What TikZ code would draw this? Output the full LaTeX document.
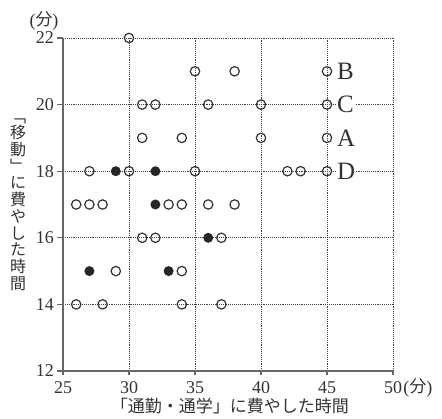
\documentclass[tikz,border=0pt]{standalone}
\usepackage{fontspec}
\setmainfont{Liberation Serif}
\newfontfamily\cjk{Noto Sans CJK JP}
\begin{document}
\begin{tikzpicture}[
  gridline/.style={draw=black!75, line width=0.8pt, dash pattern=on 0.8pt off 1.1pt},
  axisline/.style={draw=black!60, line width=1.3pt},
  tickline/.style={draw=black!60, line width=1.1pt},
  opendot/.style={circle, draw=black!80, line width=1.2pt, minimum size=9.4pt, inner sep=0pt},
  fulldot/.style={circle, fill=black!85, minimum size=10pt, inner sep=0pt},
  num/.style={font=\fontsize{18}{18}\selectfont, text=black!80, inner sep=0pt},
  lab/.style={font=\fontsize{25}{25}\selectfont, text=black!80, fill=white, inner sep=1pt, anchor=west},
  jtext/.style={font=\cjk\fontsize{17}{17}\selectfont, text=black!80, inner sep=0pt},
]
\useasboundingbox (0,0) rectangle (442pt,418pt);
\begin{scope}[x=13.2pt,y=33.3pt,shift={(63pt,47pt)},shift={(-25,-12)}]
  % grid
  \foreach \x in {30,35,40,45,50} \draw[gridline] (\x,12) -- (\x,22);
  \foreach \y in {14,16,18,20,22} \draw[gridline] (25,\y) -- (50,\y);
  % axes
  \coordinate (origin) at (25,12);
  \coordinate (ytop) at (25,22);
  \coordinate (xend) at (50,12);
  \draw[axisline] (ytop) -- (origin) -- (xend);
  \foreach \x in {25,30,35,40,45,50} {
    \coordinate (xt\x) at (\x,12);
    \draw[tickline] (xt\x) -- ++(0,-4.5pt);
    \node[num] (xl\x) at ([yshift=-17pt]xt\x) {\x};
  }
  \foreach \y in {12,14,16,18,20,22} {
    \coordinate (yt\y) at (25,\y);
    \draw[tickline] (yt\y) -- ++(-6pt,0);
    \node[num, anchor=east] (yl\y) at ([xshift=-9pt]yt\y) {\y};
  }
  \node[num, anchor=west] (xunit) at ([xshift=1pt]xl50.east) {(\raisebox{0.5pt}{\cjk\fontsize{17}{17}\selectfont 分})};
  \node[num] (yunit) at ([xshift=-19pt,yshift=17pt]ytop) {(\raisebox{0.5pt}{\cjk\fontsize{17}{17}\selectfont 分})};
  % axis titles
  \node[jtext] (xtitle) at ([yshift=-35pt]37.65,12) {「通勤・通学」に費やした時間};
  \node[jtext, align=center, font=\cjk\fontsize{16}{16.7}\selectfont] (ytitle) at ([xshift=-45pt]25,17)
    {﹁\\移\\動\\﹂\\に\\費\\や\\し\\た\\時\\間};
  % open points
  \foreach \x/\y [count=\i] in {30/22, 35/21, 38/21, 45/21,
      31/20, 32/20, 36/20, 40/20, 45/20,
      31/19, 34/19, 40/19, 45/19,
      27/18, 30/18, 35/18, 42/18, 43/18, 45/18,
      26/17, 27/17, 28/17, 33/17, 34/17, 36/17, 38/17,
      31/16, 32/16, 37/16,
      29/15, 34/15,
      26/14, 28/14, 34/14, 37/14}
    \node[opendot] (o\i) at (\x,\y) {};
  % filled points
  \foreach \x/\y [count=\i] in {29/18, 32/18, 32/17, 36/16, 27/15, 33/15}
    \node[fulldot] (f\i) at (\x,\y) {};
  % labels
  \node[lab] (lB) at ([xshift=9pt]45,21) {B};
  \node[lab] (lC) at ([xshift=9pt]45,20) {C};
  \node[lab] (lA) at ([xshift=9pt]45,19) {A};
  \node[lab] (lD) at ([xshift=9pt]45,18) {D};
\end{scope}
\end{tikzpicture}
\end{document}
